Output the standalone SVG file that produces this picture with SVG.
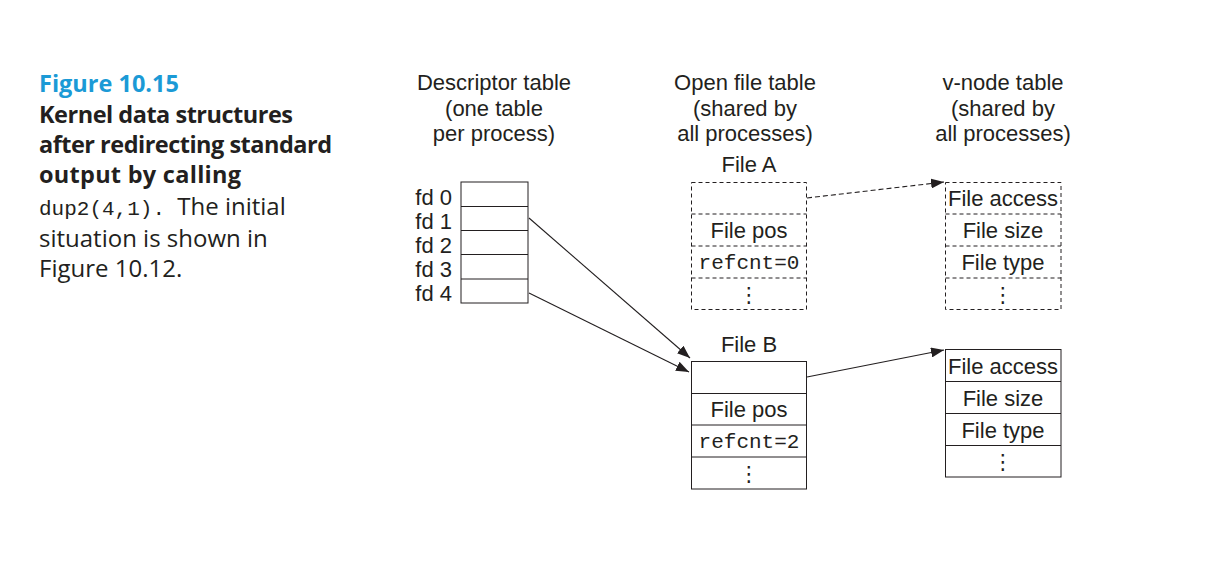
<svg xmlns="http://www.w3.org/2000/svg" width="1219" height="565" viewBox="0 0 1219 565">
<style>
text{fill:#231f20}
.h{font-family:"Liberation Sans",Arial,sans-serif;font-size:22px;text-anchor:middle}
.fd{font-family:"Liberation Sans",Arial,sans-serif;font-size:22px;text-anchor:end}
.mono{font-family:"Liberation Mono","Courier New",monospace;font-size:21px;text-anchor:middle}
.dots{font-family:"DejaVu Sans",sans-serif;font-size:21px;text-anchor:middle}
.cap{font-family:"Open Sans",Lato,sans-serif;font-size:24px}
.capb{font-family:"Open Sans",Lato,sans-serif;font-size:23.5px;font-weight:bold}
.capm{font-family:"Liberation Mono","Courier New",monospace;font-size:21px}
.solid{fill:#fff;stroke:#231f20;stroke-width:1}
.dash{fill:none;stroke:#231f20;stroke-width:1;stroke-dasharray:4 3}
.conn{fill:none;stroke:#231f20;stroke-width:1.1}
</style>
<defs>
<marker id="ah" markerWidth="14" markerHeight="10" refX="13" refY="5" orient="auto" markerUnits="userSpaceOnUse">
<path d="M0,0 L13,5 L0,10 Z" fill="#231f20"/>
</marker>
</defs>
<rect width="1219" height="565" fill="#fff"/>

<g id="caption">
<text class="capb" x="39" y="92" style="fill:#1b9ad6">Figure 10.15</text>
<text class="capb" x="39" y="123" textLength="254" lengthAdjust="spacing">Kernel data structures</text>
<text class="capb" x="39" y="153" textLength="293" lengthAdjust="spacing">after redirecting standard</text>
<text class="capb" x="39" y="183" textLength="202" lengthAdjust="spacing">output by calling</text>
<text x="39" y="215"><tspan class="capm">dup2(4,1).</tspan><tspan class="cap" dx="6"> The initial</tspan></text>
<text class="cap" x="39" y="247">situation is shown in</text>
<text class="cap" x="39" y="277">Figure 10.12.</text>
</g>

<g id="headers">
<text class="h" x="494" y="90">Descriptor table</text>
<text class="h" x="494" y="116">(one table</text>
<text class="h" x="494" y="141">per process)</text>
<text class="h" x="745" y="90">Open file table</text>
<text class="h" x="745" y="116">(shared by</text>
<text class="h" x="745" y="141">all processes)</text>
<text class="h" x="1003" y="90">v-node table</text>
<text class="h" x="1003" y="116">(shared by</text>
<text class="h" x="1003" y="141">all processes)</text>
</g>

<g id="descriptor-table">
<rect class="solid" x="461" y="182" width="67" height="121"/>
<path class="solid" d="M461,206.5 H528 M461,230.5 H528 M461,254.5 H528 M461,279 H528"/>
<text class="fd" x="452" y="205">fd 0</text>
<text class="fd" x="452" y="229">fd 1</text>
<text class="fd" x="452" y="253">fd 2</text>
<text class="fd" x="452" y="277">fd 3</text>
<text class="fd" x="452" y="301">fd 4</text>
</g>

<g id="file-a">
<text class="h" x="749" y="172">File A</text>
<rect class="dash" x="691.5" y="182.5" width="115" height="127"/>
<path class="dash" d="M691.5,214 H806.5 M691.5,246 H806.5 M691.5,278 H806.5"/>
<text class="h" x="749" y="238">File pos</text>
<text class="mono" x="749" y="269">refcnt=0</text>
<text class="dots" x="749" y="302">⋮</text>
</g>

<g id="vnode-a">
<rect class="dash" x="945.5" y="182.5" width="115.5" height="127"/>
<path class="dash" d="M945.5,214 H1061 M945.5,246 H1061 M945.5,278 H1061"/>
<text class="h" x="1003" y="206">File access</text>
<text class="h" x="1003" y="238">File size</text>
<text class="h" x="1003" y="270">File type</text>
<text class="dots" x="1003" y="302">⋮</text>
</g>

<g id="file-b">
<text class="h" x="749" y="352">File B</text>
<rect class="solid" x="691.5" y="361.5" width="115" height="127.5"/>
<path class="solid" d="M691.5,393.5 H806.5 M691.5,425 H806.5 M691.5,457 H806.5"/>
<text class="h" x="749" y="417">File pos</text>
<text class="mono" x="749" y="448">refcnt=2</text>
<text class="dots" x="749" y="481">⋮</text>
</g>

<g id="vnode-b">
<rect class="solid" x="945.5" y="349.5" width="115.5" height="127.5"/>
<path class="solid" d="M945.5,381.5 H1061 M945.5,413.5 H1061 M945.5,445.5 H1061"/>
<text class="h" x="1003" y="374">File access</text>
<text class="h" x="1003" y="406">File size</text>
<text class="h" x="1003" y="438">File type</text>
<text class="dots" x="1003" y="469">⋮</text>
</g>

<g id="connectors">
<line class="conn" x1="529" y1="218" x2="690" y2="358" marker-end="url(#ah)"/>
<line class="conn" x1="529" y1="293" x2="689" y2="372" marker-end="url(#ah)"/>
<line class="conn" x1="807" y1="198" x2="944" y2="182" stroke-dasharray="5 3" marker-end="url(#ah)"/>
<line class="conn" x1="807" y1="377" x2="944" y2="350" marker-end="url(#ah)"/>
</g>
</svg>
